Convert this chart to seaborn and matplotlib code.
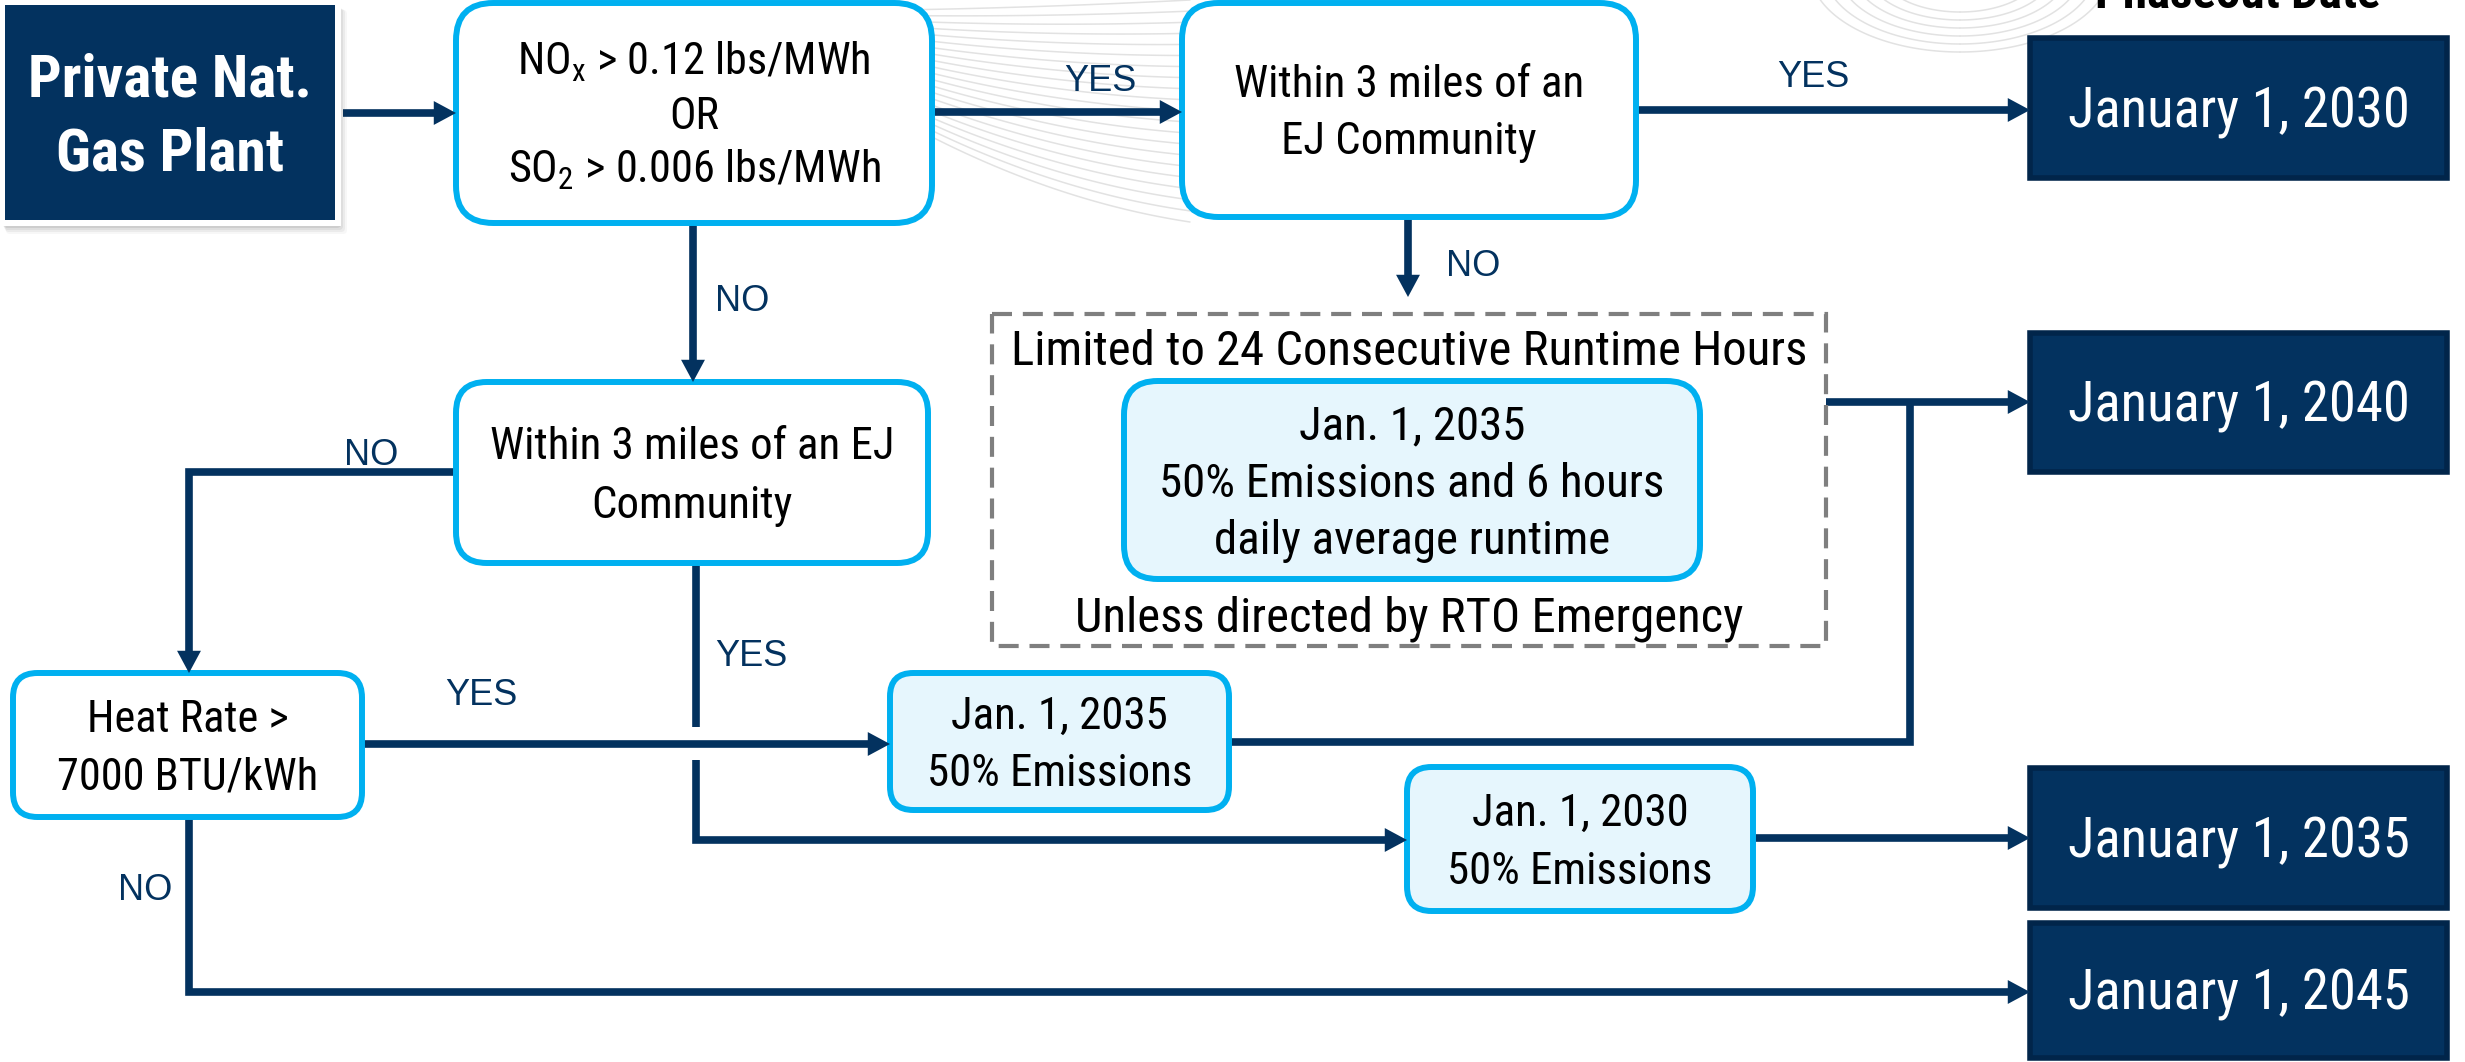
import os
import numpy as np
import matplotlib.pyplot as plt
import matplotlib.font_manager as fm
from matplotlib.font_manager import FontProperties
from matplotlib.patches import FancyBboxPatch, Rectangle
from matplotlib.textpath import TextToPath
import seaborn as sns

# ---- texts of the flow chart ----
start_label = ['Private Nat.', 'Gas Plant']
emission_test = [r'NO$_\mathregular{x}$ > 0.12 lbs/MWh', 'OR', r'SO$_\mathregular{2}$ > 0.006 lbs/MWh']
ej_test_high = ['Within 3 miles of an', 'EJ Community']
ej_test_low = ['Within 3 miles of an EJ', 'Community']
heat_test = ['Heat Rate >', '7000 BTU/kWh']
limited_header = 'Limited to 24 Consecutive Runtime Hours'
limited_footer = 'Unless directed by RTO Emergency'
limited_rule = ['Jan. 1, 2035', '50% Emissions and 6 hours', 'daily average runtime']
rule_2035 = ['Jan. 1, 2035', '50% Emissions']
rule_2030 = ['Jan. 1, 2030', '50% Emissions']
phaseout_title = 'Phaseout Date'
phaseout_dates = ['January 1, 2030', 'January 1, 2040', 'January 1, 2035', 'January 1, 2045']
branch_labels = ['YES', 'YES', 'NO', 'NO', 'NO', 'YES', 'YES', 'NO']

# ---- layout (pixel space, y down) ----
W, H = 2465, 1062
boxes = {
    'start': (5, 5, 335, 220),
    'emis': (456, 3, 932, 223),
    'ej_hi': (1182, 3, 1636, 217),
    'ej_lo': (456, 382, 928, 563),
    'heat': (13, 673, 362, 817),
    'r2035': (890, 673, 1229, 810),
    'r2030': (1407, 767, 1753, 911),
    'limited': (992, 314, 1826, 646),
    'lim_rule': (1124, 381, 1700, 579),
}
date_boxes = [(2030, 38, 2447, 178), (2030, 333, 2447, 472),
              (2030, 768, 2447, 908), (2030, 923, 2447, 1058)]
label_pos = [(1100, 79), (1813, 75), (742, 299), (1473, 264),
             (371, 453), (481, 693), (751, 654), (145, 888)]
# polylines, last point gets an arrow head when flag is True
paths = [
    ([(343, 113), (456, 113)], True),
    ([(935, 112), (1182, 112)], True),
    ([(1638, 110), (2030, 110)], True),
    ([(693, 223), (693, 382)], True),
    ([(1408, 217), (1408, 297)], True),
    ([(456, 472), (189, 472), (189, 673)], True),
    ([(362, 744), (890, 744)], True),
    ([(696, 563), (696, 727)], False),
    ([(696, 760), (696, 840), (1407, 840)], True),
    ([(1229, 742), (1910, 742), (1910, 402)], False),
    ([(1826, 402), (2030, 402)], True),
    ([(1753, 838), (2030, 838)], True),
    ([(189, 817), (189, 992), (2030, 992)], True),
]

NAVY = '#03325f'
NAVY_EDGE = '#01254a'
CYAN = '#00b0f0'
PALE = '#e6f6fd'
GREY = '#7f7f7f'
SWIRL = '#e2e2e2'
DPI = 100

sns.set_theme(style='white')
plt.rcParams['font.family'] = ['Liberation Sans', 'DejaVu Sans']


# the chart uses a condensed grotesque; look for one, else squeeze Liberation Sans
def pick(patterns):
    files = {os.path.basename(f.fname).lower(): f.fname for f in fm.fontManager.ttflist}
    for p in patterns:
        for name in sorted(files):
            if name.startswith(p):
                return files[name]
    return None


narrow_reg = pick(['liberationsansnarrow-regular', 'arialn.', 'robotocondensed-regular',
                   'notosans-condensed.', 'notosans-condensedregular'])
narrow_bold = pick(['liberationsansnarrow-bold.', 'arialnb.', 'robotocondensed-bold.',
                    'notosans-condensedbold.'])


def base_prop(bold):
    path = narrow_bold if bold else narrow_reg
    if path:
        return FontProperties(fname=path)
    return FontProperties(family='Liberation Sans', weight='bold' if bold else 'normal')


t2p = TextToPath()


def width_px(s, prop):
    return t2p.get_text_width_height_descent(s, prop, ismath=False)[0] * DPI / 72


# calibrate sizes on two strings measured on the reference
p = base_prop(False); p.set_size(42)
k_reg = 342 / width_px('January 1, 2030', p)
p = base_prop(True); p.set_size(46)
k_bold = 284 / width_px('Private Nat.', p)


def nprop(size, bold=False):
    p = base_prop(bold)
    p.set_size(size * (k_bold if bold else k_reg))
    return p


fig = plt.figure(figsize=(W / DPI, H / DPI), dpi=DPI)
ax = fig.add_axes([0, 0, 1, 1])
ax.set_xlim(0, W)
ax.set_ylim(H, 0)
ax.axis('off')


def put_lines(cx, cy, lines, prop, gap, color='black'):
    cap = t2p.get_text_width_height_descent('H', prop, ismath=False)[1] * DPI / 72
    n = len(lines)
    for i, s in enumerate(lines):
        yc = cy + (i - (n - 1) / 2) * gap
        ax.text(cx, yc + cap / 2, s, ha='center', va='baseline',
                fontproperties=prop, color=color, zorder=6)


def round_box(key, fill='white', r=None):
    x0, y0, x1, y1 = boxes[key]
    if r is None:
        r = 0.17 * min(x1 - x0, y1 - y0)
    ax.add_patch(FancyBboxPatch((x0, y0), x1 - x0, y1 - y0,
                                boxstyle=f'round,pad=0,rounding_size={r}',
                                fc=fill, ec=CYAN, lw=4.3, zorder=3))
    return (x0 + x1) / 2, (y0 + y1) / 2


# faint background swirl (decoration only)
t = np.linspace(0, 1, 120)
xs = 900 + 290 * t
for s in np.linspace(0, 1, 21):
    ax.plot(xs, 10 + 110 * s + (-5 + 165 * s) * t - (5 + 53 * s) * t ** 2,
            color=SWIRL, lw=1.1, zorder=0)
th = np.linspace(0.5 * np.pi, np.pi, 80)
for j in range(6):
    rx, ry = 150 - 14 * j, 82 - 8 * j
    ax.plot(1960 + rx * np.cos(th), -30 + ry * np.sin(th), color=SWIRL, lw=1.1, zorder=0)
th = np.linspace(0.0, 0.5 * np.pi, 60)
for j in range(6):
    rx, ry = 150 - 14 * j, 82 - 8 * j
    ax.plot(1960 + rx * np.cos(th), -30 + ry * np.sin(th), color=SWIRL, lw=1.1, zorder=0)

# connectors
for pts, arrow in paths:
    px = [q[0] for q in pts]
    py = [q[1] for q in pts]
    if arrow:
        (xa, ya), (xb, yb) = pts[-2], pts[-1]
        L = ((xb - xa) ** 2 + (yb - ya) ** 2) ** 0.5
        ux, uy = (xb - xa) / L, (yb - ya) / L
        px[-1] = xb - ux * 16
        py[-1] = yb - uy * 16
        ax.annotate('', xy=(xb, yb), xytext=(xb - ux * 40, yb - uy * 40),
                    arrowprops=dict(arrowstyle='-|>,head_length=0.8,head_width=0.43',
                                    mutation_scale=20, color=NAVY, lw=0,
                                    shrinkA=0, shrinkB=0), zorder=4)
    ax.plot(px, py, color=NAVY, lw=5.5, solid_joinstyle='miter',
            solid_capstyle='butt', zorder=1)

# start box with soft shadow
x0, y0, x1, y1 = boxes['start']
for k, a in enumerate([0.10, 0.08, 0.06, 0.04]):
    ax.add_patch(FancyBboxPatch((x0 - 2 + k, y0 + 2 + k), x1 - x0 + 8 + k, y1 - y0 + 6 + k,
                                boxstyle='round,pad=0,rounding_size=4',
                                fc='#404040', ec='none', alpha=a, zorder=2))
ax.add_patch(Rectangle((x0 - 5, y0 - 5), x1 - x0 + 11, y1 - y0 + 11, fc='white', ec='none', zorder=2.5))
ax.add_patch(Rectangle((x0, y0), x1 - x0, y1 - y0, fc=NAVY, ec='none', zorder=3))
put_lines((x0 + x1) / 2, (y0 + y1) / 2, start_label, nprop(46, bold=True), 74, color='white')

# decision boxes
body = nprop(34.5)
cx, cy = round_box('emis')
put_lines(cx, cy, emission_test, nprop(34), 54)
cx, cy = round_box('ej_hi')
put_lines(cx, cy, ej_test_high, body, 57)
cx, cy = round_box('ej_lo')
put_lines(cx, cy, ej_test_low, body, 59)
cx, cy = round_box('heat')
put_lines(cx, cy, heat_test, nprop(34), 58)

# rule boxes
cx, cy = round_box('r2035', fill=PALE)
put_lines(cx, cy, rule_2035, body, 58)
cx, cy = round_box('r2030', fill=PALE)
put_lines(cx, cy, rule_2030, body, 58)

# dashed limitation frame
x0, y0, x1, y1 = boxes['limited']
ax.add_patch(Rectangle((x0, y0), x1 - x0, y1 - y0, fill=False, ec=GREY, lw=3,
                       linestyle=(0, (4.8, 2.6)), zorder=2))
put_lines((x0 + x1) / 2, 348, [limited_header], nprop(37.5), 0)
put_lines((x0 + x1) / 2, 614, [limited_footer], nprop(37.5), 0)
cx, cy = round_box('lim_rule', fill=PALE)
put_lines(cx, cy, limited_rule, nprop(36), 57)

# phaseout dates
for (x0, y0, x1, y1), s in zip(date_boxes, phaseout_dates):
    ax.add_patch(Rectangle((x0, y0), x1 - x0, y1 - y0, fc=NAVY, ec=NAVY_EDGE, lw=4, zorder=3))
    put_lines((x0 + x1) / 2, (y0 + y1) / 2, [s], nprop(42), 0, color='white')
ax.text(2238, 8, phaseout_title, ha='center', va='baseline',
        fontproperties=nprop(38, bold=True), color='black', zorder=6)

# branch labels
lab = FontProperties(family='Liberation Sans', size=26)
for (x, y), s in zip(label_pos, branch_labels):
    put_lines(x, y, [s], lab, 0, color=NAVY)

fig.savefig('out.png', dpi=DPI)
